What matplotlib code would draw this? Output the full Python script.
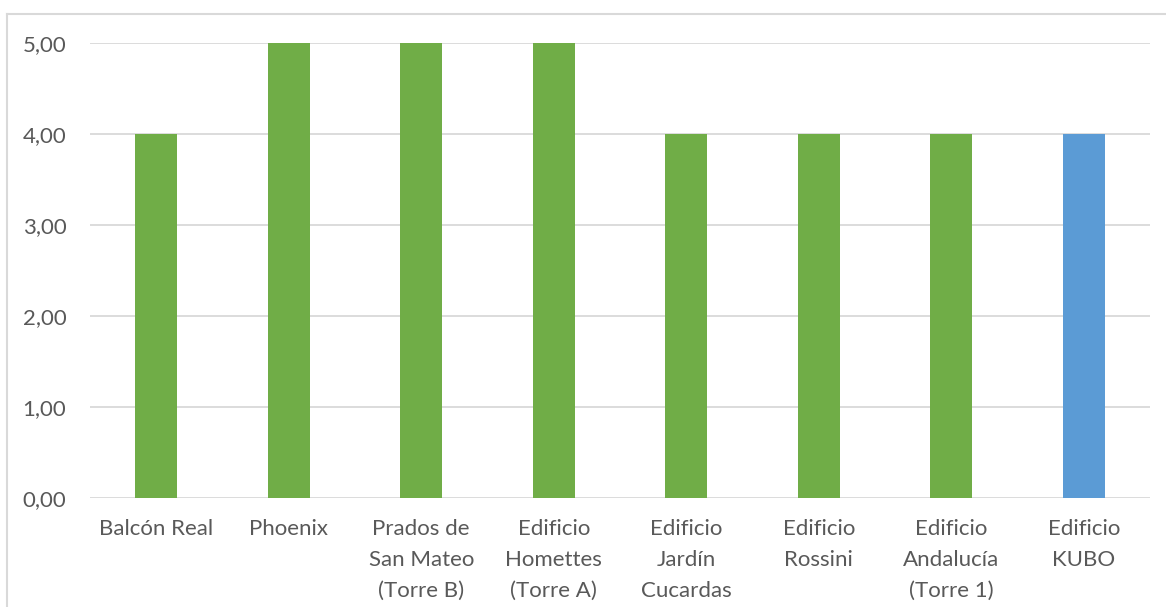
import matplotlib
matplotlib.use("Agg")
import matplotlib.pyplot as plt
from matplotlib.lines import Line2D
from matplotlib.ticker import FuncFormatter

categories = [
    "Balcón Real",
    "Phoenix",
    "Prados de\nSan Mateo\n(Torre B)",
    "Edificio\nHomettes\n(Torre A)",
    "Edificio\nJardín\nCucardas",
    "Edificio\nRossini",
    "Edificio\nAndalucía\n(Torre 1)",
    "Edificio\nKUBO",
]
values = [4, 5, 5, 5, 4, 4, 4, 4]
highlight = "Edificio\nKUBO"

GREEN = "#70AD47"
BLUE = "#5B9BD5"
TEXT = "#595959"
GRID = "#D9D9D9"

plt.rcParams["font.family"] = ["Lato", "DejaVu Sans"]

W, H = 1166, 607
fig = plt.figure(figsize=(W / 100, H / 100), dpi=100)
ax = fig.add_axes([90 / W, 1 - 498 / H, (1150 - 90) / W, (498 - 43) / H])

colors = [BLUE if c == highlight else GREEN for c in categories]
x = list(range(len(categories)))
ax.bar(x, values, width=0.32, color=colors, zorder=3)

ax.set_xlim(-0.5, len(categories) - 0.5)
ax.set_ylim(0, 5)
ax.set_yticks([0, 1, 2, 3, 4, 5])
ax.yaxis.set_major_formatter(FuncFormatter(lambda v, p: f"{v:.2f}".replace(".", ",")))
ax.grid(axis="y", color=GRID, linewidth=1.3, zorder=0)
ax.set_axisbelow(True)
for s in ax.spines.values():
    s.set_visible(False)
ax.tick_params(axis="both", length=0, labelsize=16, labelcolor=TEXT)
ax.tick_params(axis="y", pad=17)
ax.tick_params(axis="x", pad=15)
ax.set_xticks(x)
ax.set_xticklabels(categories, linespacing=1.7, ha="center", va="top")

# chart-area border
fig.add_artist(Line2D([7 / W, 7 / W], [0, 1 - 14 / H], color=GRID, linewidth=1.5, transform=fig.transFigure))
fig.add_artist(Line2D([7 / W, 1], [1 - 14 / H, 1 - 14 / H], color=GRID, linewidth=1.5, transform=fig.transFigure))

fig.savefig("out.png", dpi=100, facecolor="white")
